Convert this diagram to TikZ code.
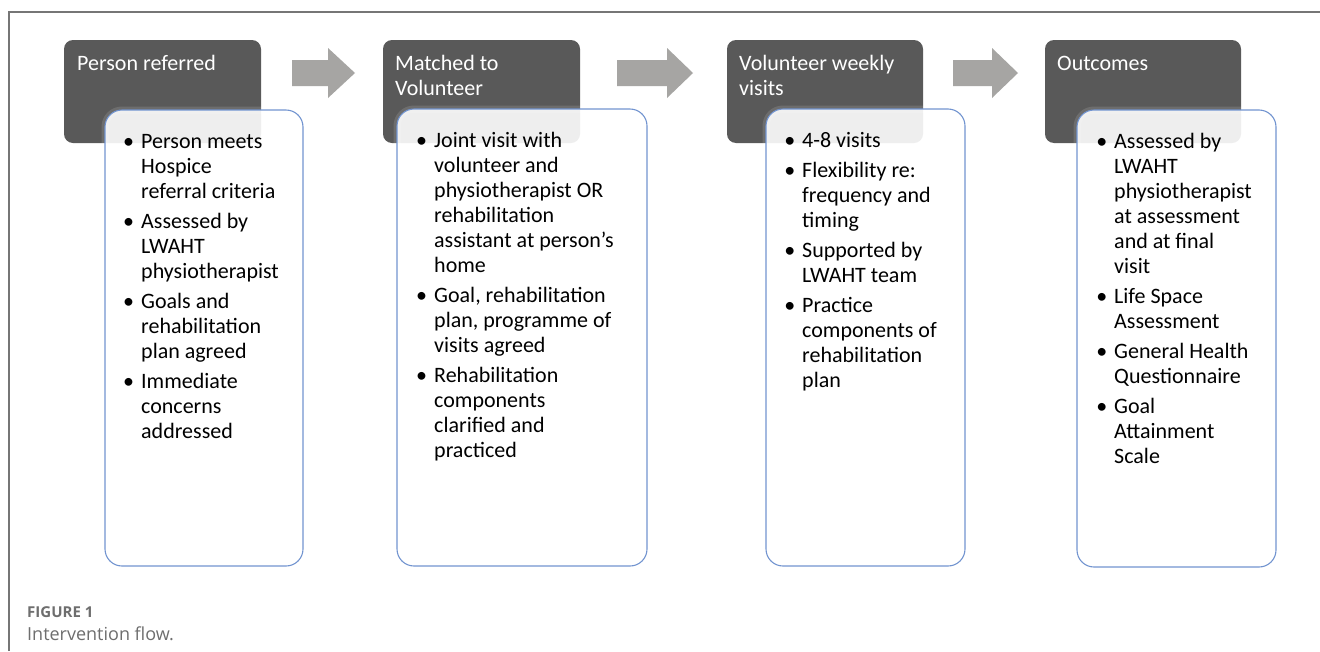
\documentclass[tikz,border=0pt]{standalone}
\usepackage{fontspec}
\setmainfont{Carlito}
\newfontfamily\captionfont{Open Sans}
\definecolor{stagegray}{RGB}{89,89,89}
\definecolor{arrowgray}{RGB}{166,165,163}
\definecolor{cardblue}{RGB}{114,148,208}
\definecolor{framegray}{RGB}{118,118,118}
\definecolor{capgray}{RGB}{110,110,110}
\newcommand{\bul}{\llap{\textbullet\hspace{7pt}}}
\begin{document}
\begin{tikzpicture}[x=1pt,y=-1pt,
  stagebox/.style={fill=stagegray,rounded corners=9pt},
  card/.style={draw=cardblue,line width=1.1pt,fill=white,fill opacity=0.9,rounded corners=17pt},
  cardhalo/.style={draw=white,line width=7pt,draw opacity=0.12,rounded corners=17pt},
  flowarrow/.style={fill=arrowgray},
  % multi-line nodes are placed by the baseline of their last line
  title/.style={anchor=base west,inner sep=0pt,text=white,align=left,
    font=\fontsize{22}{25}\selectfont},
  body/.style={anchor=base west,inner sep=0pt,text=black,align=left,
    font=\fontsize{22}{25}\selectfont}]
\useasboundingbox (0,0) rectangle (1320,651);
\fill[white] (0,0) rectangle (1320,651);
% frame corner
\draw[framegray,line width=1.4pt] (9,651) -- (9,12) -- (1320,12);

% stage headers
\fill[stagebox] (64,40) rectangle (261,143);
\fill[stagebox] (383,40) rectangle (580,143);
\fill[stagebox] (727,40) rectangle (923,143);
\fill[stagebox] (1045,40) rectangle (1241,143);

\node[title] (t1) at (77,70) {Person referred};
\node[title] (t2) at (395,95) {Matched to\\Volunteer};
\node[title] (t3) at (739,95) {Volunteer weekly\\visits};
\node[title] (t4) at (1057,70) {Outcomes};

% block arrows between stages
\fill[flowarrow] (292,60) -- (328,60) -- (328,48) -- (355,73) -- (328,98) -- (328,86) -- (292,86) -- cycle;
\fill[flowarrow] (617,60) -- (667,60) -- (667,48) -- (693,73) -- (667,98) -- (667,86) -- (617,86) -- cycle;
\fill[flowarrow] (953,60) -- (992,60) -- (992,48) -- (1018,73) -- (992,98) -- (992,86) -- (953,86) -- cycle;

% detail cards
\draw[cardhalo] (105,110) rectangle (303,566);
\draw[cardhalo] (397,109) rectangle (647,566);
\draw[cardhalo] (766,109) rectangle (965,566);
\draw[cardhalo] (1077,110) rectangle (1276,567);
\path[card] (105,110) rectangle (303,566);
\path[card] (397,109) rectangle (647,566);
\path[card] (766,109) rectangle (965,566);
\path[card] (1077,110) rectangle (1276,567);

\node[body] (b1) at (141,438) {\bul Person meets\\Hospice\\referral criteria\\[5pt]
\bul Assessed by\\LWAHT\\physiotherapist\\[5pt]
\bul Goals and\\rehabilitation\\plan agreed\\[5pt]
\bul Immediate\\concerns\\addressed};

\node[body] (b2) at (434,457) {\bul Joint visit with\\volunteer and\\physiotherapist OR\\rehabilitation\\assistant at person’s\\home\\[5pt]
\bul Goal, rehabilitation\\plan, programme of\\visits agreed\\[5pt]
\bul Rehabilitation\\components\\clarified and\\practiced};

\node[body] (b3) at (802,387) {\bul 4-8 visits\\[5pt]
\bul Flexibility re:\\frequency and\\timing\\[5pt]
\bul Supported by\\LWAHT team\\[5pt]
\bul Practice\\components of\\rehabilitation\\plan};

\node[body] (b4) at (1114,463) {\bul Assessed by\\LWAHT\\physiotherapist\\at assessment\\and at final\\visit\\[5pt]
\bul Life Space\\Assessment\\[5pt]
\bul General Health\\Questionnaire\\[5pt]
\bul Goal\\Attainment\\Scale};

% caption
\node[anchor=base west,inner sep=0pt,text=capgray,font=\captionfont\bfseries\fontsize{15}{18}\selectfont] (fig) at (27,617) {FIGURE 1};
\node[anchor=base west,inner sep=0pt,text=capgray,font=\captionfont\fontsize{18}{21}\selectfont] (cap) at (27,640) {Intervention flow.};
\end{tikzpicture}
\end{document}
